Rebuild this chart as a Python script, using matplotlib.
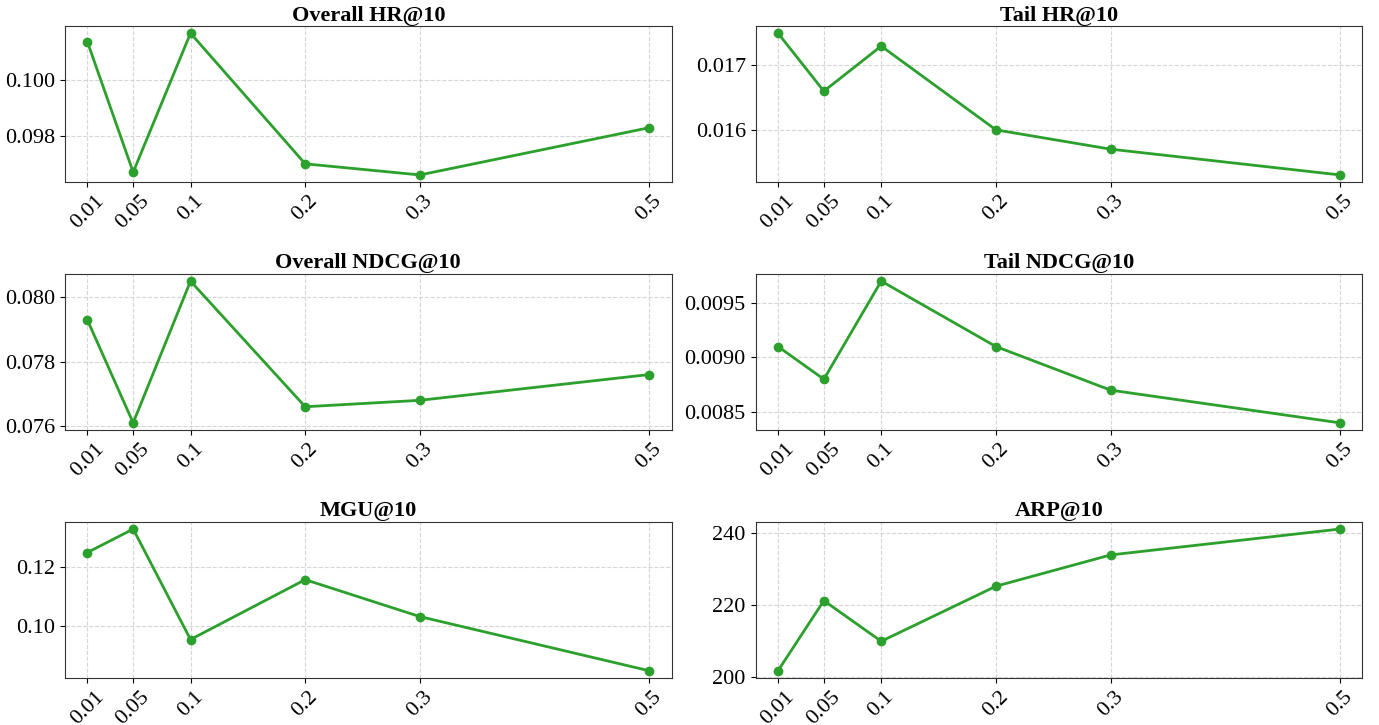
import matplotlib
matplotlib.use("Agg")
import matplotlib.pyplot as plt

plt.rcParams["font.family"] = ["Liberation Serif", "DejaVu Serif"]

# x-axis: ratio values
ratios = [0.01, 0.05, 0.1, 0.2, 0.3, 0.5]
ratio_labels = ["0.01", "0.05", "0.1", "0.2", "0.3", "0.5"]

overall_hr = [0.1014, 0.0967, 0.1017, 0.0970, 0.0966, 0.0983]
tail_hr = [0.0175, 0.0166, 0.0173, 0.0160, 0.0157, 0.0153]
overall_ndcg = [0.0793, 0.0761, 0.0805, 0.0766, 0.0768, 0.0776]
tail_ndcg = [0.0091, 0.0088, 0.0097, 0.0091, 0.0087, 0.0084]
mgu = [0.1248, 0.1327, 0.0956, 0.1157, 0.1033, 0.0851]
arp = [201.6, 221.1, 209.8, 225.1, 233.8, 241.0]

titles = ["Overall HR@10", "Tail HR@10", "Overall NDCG@10",
          "Tail NDCG@10", "MGU@10", "ARP@10"]
series = [overall_hr, tail_hr, overall_ndcg, tail_ndcg, mgu, arp]

fig, axes = plt.subplots(3, 2, figsize=(13.79, 7.25), dpi=100)
fig.subplots_adjust(left=0.047, right=0.988, top=0.964, bottom=0.065,
                    wspace=0.138, hspace=0.59)

for ax, title, vals in zip(axes.flat, titles, series):
    ax.plot(ratios, vals, color="#2ca02c", linewidth=2, marker="o", markersize=6)
    ax.set_title(title, fontsize=16, fontweight="bold", pad=4)
    ax.set_xticks(ratios)
    ax.set_xticklabels(ratio_labels, rotation=45)
    ax.margins(x=0.04)
    ax.tick_params(axis="both", labelsize=16)
    ax.grid(True, linestyle="--", color="#cccccc", alpha=0.8, linewidth=0.8)
    for sp in ax.spines.values():
        sp.set_color("#333333")

plt.savefig("out.png", dpi=100)
